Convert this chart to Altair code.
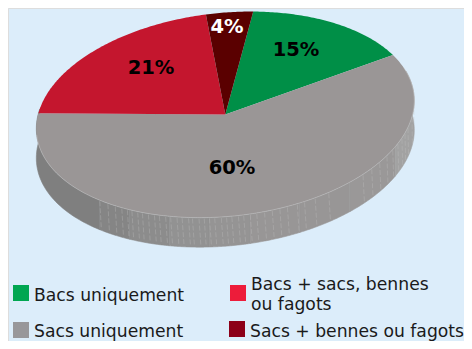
import math
import altair as alt

# --- values ---
categories = ["Bacs uniquement", "Sacs uniquement", "Bacs + sacs, bennes ou fagots", "Sacs + bennes ou fagots"]
shares = [15, 60, 21, 4]
share_labels = ["15%", "60%", "21%", "4%"]
pie_colors = ["#008f47", "#9a9696", "#c4162e", "#5a0000"]
legend_colors = ["#00a651", "#98979a", "#ed1c3a", "#8c0018"]
label_colors = ["#000000", "#000000", "#000000", "#ffffff"]

# side-wall facets: shade by horizontal position of the wall
side_stops = [36, 100, 130, 170, 210, 250, 300, 350, 395, 417]
side_shades = ["#7f7f7f", "#858585", "#8c8c8c", "#929292", "#959494", "#989696", "#989696", "#9a9898", "#a2a2a2"]
tick_xs = [100, 108, 115, 122, 127, 132, 138, 143, 149, 155, 160, 166, 171, 177, 182, 188, 193, 199, 204, 210,
           215, 221, 226, 232, 238, 244, 250, 257, 264, 272, 280, 288, 297, 305, 315, 329, 363, 372, 380, 387,
           393, 398, 402, 405, 408, 410, 412, 414]

OFF = 8          # page margin
CX, CY = 225.3 - OFF, 114.6 - OFF
A, B = 189.7, 101.7
PHI = math.radians(5.95)
DEPTH = 29.5
START = 78.3


def pt(t_deg, dy=0.0):
    t = math.radians(t_deg)
    u, v = A * math.cos(t), B * math.sin(t)
    return [CX + u * math.cos(PHI) - v * math.sin(PHI),
            CY - u * math.sin(PHI) - v * math.cos(PHI) + dy]


def arc(t0, t1, dy=0.0, n=None):
    n = n or max(4, int(abs(t1 - t0) * 1.5))
    return [pt(t0 + (t1 - t0) * i / n, dy) for i in range(n + 1)]


def feat(geom_type, coords, **props):
    return {"type": "Feature", "geometry": {"type": geom_type, "coordinates": coords}, "properties": props}


# slices, clockwise from START, sized by the values
slices, t = [], START
bounds = []
for s, c in zip(shares, pie_colors):
    sweep = s * 3.6
    ring = [[CX, CY]] + arc(t, t - sweep) + [[CX, CY]]
    slices.append(feat("Polygon", [ring], color=c))
    bounds.append((t, t - sweep))
    t -= sweep

# front wall: t from right extreme round the bottom to left extreme
T_R = 14.0
T_L = -194.0
all_t = [T_R + (T_L - T_R) * i / 520 for i in range(521)]
front = [(tt, pt(tt)) for tt in all_t]


def t_for_x(x):
    target = x - OFF
    return min(front, key=lambda p: abs(p[1][0] - target))[0]


walls = []
for i, shade in enumerate(side_shades):
    a = t_for_x(side_stops[i + 1])
    b = t_for_x(side_stops[i])
    if i == len(side_shades) - 1:
        a = T_R
    if i == 0:
        b = T_L
    ring = arc(a, b, n=40) + arc(b, a, DEPTH, n=40)
    ring.append(ring[0])
    walls.append(feat("Polygon", [ring], color=shade))

ticks = []
for k, x in enumerate(tick_xs):
    tt = t_for_x(x)
    ticks.append(feat("LineString", [pt(tt, 1), pt(tt + 0.6, DEPTH - 1)], color="#c4c4c4"))

front_edge = [feat("LineString", arc(bounds[1][0] - 8, bounds[1][1] + 12), color="#c9c9c9")]


def geo(features, **mark):
    return alt.Chart(alt.Data(values=features)).mark_geoshape(**mark).encode(
        color=alt.Color("properties.color:N", scale=None, legend=None)
    ).project(type="identity", scale=1, translate=[0, 0])


def lines(features, **mark):
    return alt.Chart(alt.Data(values=features)).mark_geoshape(filled=False, **mark).encode(
        stroke=alt.Stroke("properties.color:N", scale=None, legend=None)
    ).project(type="identity", scale=1, translate=[0, 0])


wall_layer = geo(walls, strokeWidth=0.6, stroke=None).encode(
    stroke=alt.Stroke("properties.color:N", scale=None, legend=None))
tick_layer = lines(ticks, strokeWidth=0.7, strokeDash=[5, 2], opacity=0.45)
top_layer = geo(slices, strokeWidth=0)
edge_layer = lines(front_edge, strokeWidth=0.6, opacity=0.8)

# pie labels
label_pos = [(296, 50), (232, 168), (151, 68), (227, 27)]
label_rows = [{"t": l, "x": x - OFF, "y": y - OFF, "c": c}
              for l, (x, y), c in zip(share_labels, label_pos, label_colors)]
pie_text = alt.Chart(alt.Data(values=label_rows)).mark_text(
    font="DejaVu Sans", fontWeight="bold", fontSize=19.5, align="center", baseline="middle"
).encode(x=alt.X("x:Q", scale=None), y=alt.Y("y:Q", scale=None),
         color=alt.Color("c:N", scale=None, legend=None), text="t:N")

# legend (last row sits higher so that it stays whole inside the page)
LAST_ROW = -10
swatch_pos = [(21, 293), (21, 340 + LAST_ROW), (238, 293), (237, 339 + LAST_ROW)]
swatches = [{"x": x - OFF, "y": y - OFF, "c": c} for (x, y), c in zip(swatch_pos, legend_colors)]
swatch_layer = alt.Chart(alt.Data(values=swatches)).mark_square(size=256, opacity=1, filled=True).encode(
    x=alt.X("x:Q", scale=None), y=alt.Y("y:Q", scale=None),
    color=alt.Color("c:N", scale=None, legend=None))

legend_lines = [("Bacs uniquement", 34, 301), ("Sacs uniquement", 34, 347 + LAST_ROW),
                ("Bacs + sacs, bennes", 251, 290), ("ou fagots", 251, 310),
                ("Sacs + bennes ou fagots", 250, 347 + LAST_ROW)]
legend_rows = [{"t": t_, "x": x - OFF, "y": y - OFF} for t_, x, y in legend_lines]
legend_text = alt.Chart(alt.Data(values=legend_rows)).mark_text(
    font="DejaVu Sans", fontSize=17.2, align="left", baseline="alphabetic", color="#1a1a1a"
).encode(x=alt.X("x:Q", scale=None), y=alt.Y("y:Q", scale=None), text="t:N")

chart = alt.layer(wall_layer, tick_layer, top_layer, edge_layer, pie_text, swatch_layer, legend_text).properties(
    width=456, height=333, background="#dcedfa", padding=0
).configure_view(stroke=None).configure(autosize=alt.AutoSizeParams(type="none"))

chart.save("out.html", embed_options={"renderer": "svg", "actions": False})
